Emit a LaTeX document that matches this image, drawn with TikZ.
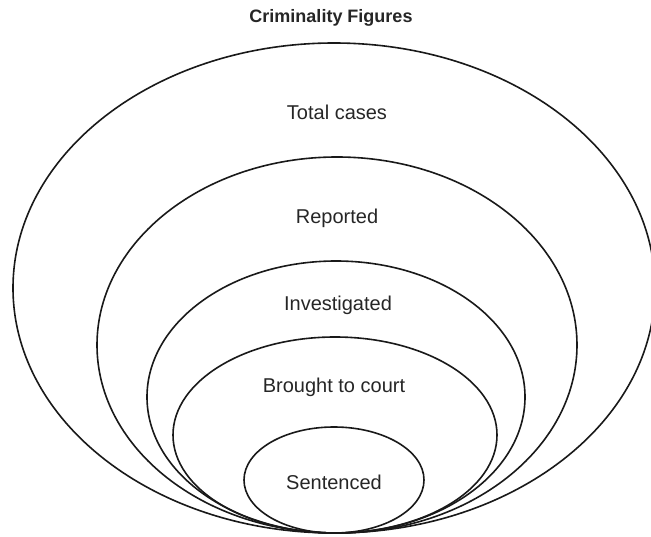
\documentclass[tikz,border=0pt]{standalone}
\usepackage{fontspec}
\setmainfont{Liberation Sans}
\usepackage{tikz}
\usetikzlibrary{positioning}

\begin{document}
\begin{tikzpicture}[
    x=1pt, y=-1pt,
    ring/.style={draw=black!90, line width=1.6pt},
    lbl/.style={font=\fontsize{20}{24}\selectfont, text=black!85},
    ttl/.style={font=\fontsize{18}{22}\selectfont\bfseries, text=black!85},
]
\useasboundingbox (0, 0) rectangle (651, 537);
\coordinate (base) at (335, 533);
\draw[ring] (334, 288) ellipse [x radius=321, y radius=245];
\draw[ring] (337, 345) ellipse [x radius=240, y radius=188];
\draw[ring] (336, 397) ellipse [x radius=189, y radius=136];
\draw[ring] (335, 435) ellipse [x radius=162, y radius=98];
\draw[ring] (334, 480) ellipse [x radius=90, y radius=53];
\node[ttl] (title) at (331, 18) {Criminality Figures};
\node[lbl] (total) at (337, 112) {Total cases};
\node[lbl] (reported) at (337, 218) {Reported};
\node[lbl] (investigated) at (338, 305) {Investigated};
\node[lbl] (court) at (334, 387) {Brought to court};
\node[lbl] (sentenced) at (334, 482) {Sentenced};
\end{tikzpicture}
\end{document}
